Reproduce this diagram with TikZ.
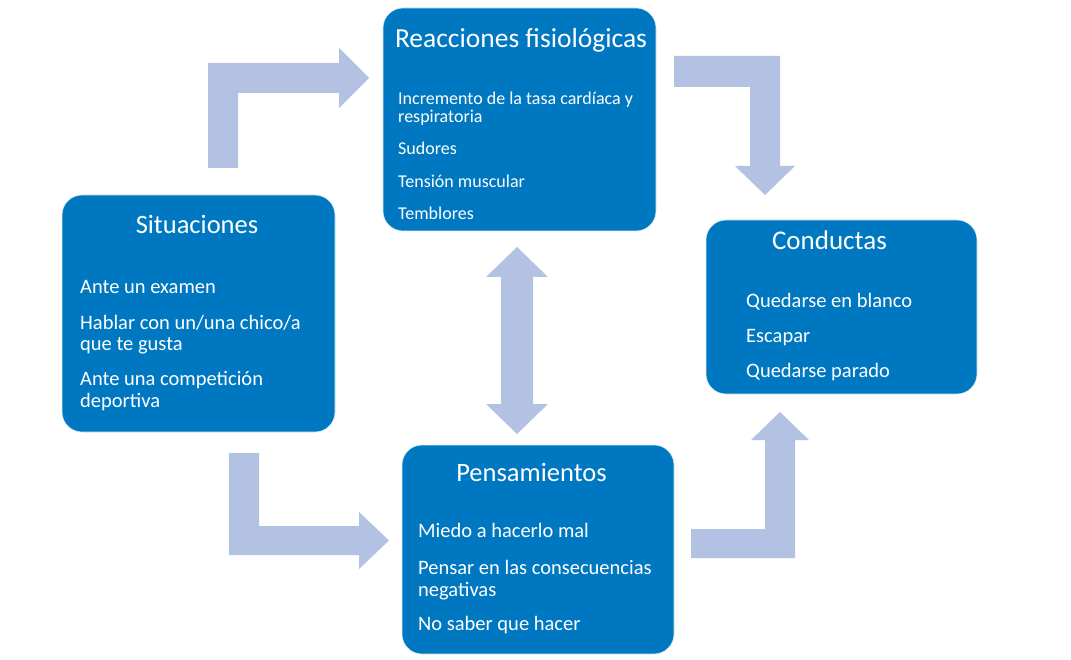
\documentclass[tikz,border=0pt]{standalone}
\usepackage{fontspec}
\setmainfont{Carlito}
\definecolor{boxblue}{RGB}{0,120,193}
\definecolor{arrowblue}{RGB}{179,193,226}
\newcommand\twolines[2]{\parbox[t]{300pt}{\raggedright #1\\#2}}
\tikzset{
  box/.style={rectangle, rounded corners=20pt, fill=boxblue, draw=white!85!boxblue, line width=0.6pt, inner sep=0pt},
  title/.style={text=white, inner sep=0pt, anchor=base, font=\fontsize{26.5}{29}\selectfont},
  item/.style={text=white, inner sep=0pt, anchor=base west, font=\fontsize{20.5}{21.5}\selectfont},
  smallitem/.style={text=white, inner sep=0pt, anchor=base west, font=\fontsize{18}{18.3}\selectfont},
  blockarrow/.style={fill=arrowblue, draw=none}
}
\begin{document}
\begin{tikzpicture}[x=1pt,y=-1pt]
\useasboundingbox (0,0) rectangle (1071,660);
% boxes
\node[box, minimum width=273pt, minimum height=237pt] (sit) at (198.5,313.5) {};
\node[box, minimum width=273pt, minimum height=223pt] (rea) at (519.5,119.5) {};
\node[box, minimum width=272pt, minimum height=209pt] (pen) at (538,549.5) {};
\node[box, minimum width=271pt, minimum height=174pt] (con) at (841.5,307) {};
% block arrows
\fill[blockarrow] (208,168) -- (208,63) -- (339,63) -- (339,48) -- (369,78) -- (339,108) -- (339,93) -- (238,93) -- (238,168) -- cycle;
\fill[blockarrow] (674,56) -- (780,56) -- (780,166) -- (795,166) -- (765,195) -- (735,166) -- (750,166) -- (750,87) -- (674,87) -- cycle;
\fill[blockarrow] (229,453) -- (259,453) -- (259,526) -- (359,526) -- (359,512) -- (389,540.5) -- (359,569) -- (359,555) -- (229,555) -- cycle;
\fill[blockarrow] (691,529) -- (765,529) -- (765,440) -- (751,440) -- (780,412) -- (809,440) -- (795,440) -- (795,558) -- (691,558) -- cycle;
\fill[blockarrow] (517,247) -- (548,277) -- (533,277) -- (533,404) -- (548,404) -- (517,434) -- (486,404) -- (501,404) -- (501,277) -- (486,277) -- cycle;
\begin{scope}[yshift=-2.5pt]
% Situaciones
\node[title] (sitT) at (197,231) {Situaciones};
\node[item] (sit1) at (80,291) {Ante un examen};
\node[item] (sit2) at (80,327) {\twolines{Hablar con un/una chico/a}{que te gusta}};
\node[item] (sit3) at (80,383) {\twolines{Ante una competición}{deportiva}};
% Reacciones
\node[title, font=\fontsize{27.5}{30}\selectfont] (reaT) at (521,45) {Reacciones fisiológicas};
\node[smallitem] (rea1) at (398,102) {\twolines{Incremento de la tasa cardíaca y}{respiratoria}};
\node[smallitem] (rea2) at (398,152) {Sudores};
\node[smallitem] (rea3) at (398,185) {Tensión muscular};
\node[smallitem] (rea4) at (398,217) {Temblores};
% Pensamientos
\node[title] (penT) at (531.5,479) {Pensamientos};
\node[item] (pen1) at (418,535) {Miedo a hacerlo mal};
\node[item] (pen2) at (418,572) {\twolines{Pensar en las consecuencias}{negativas}};
\node[item] (pen3) at (418,628) {No saber que hacer};
% Conductas
\node[title, font=\fontsize{27}{29}\selectfont] (conT) at (829.5,247) {Conductas};
\node[item] (con1) at (746,305) {Quedarse en blanco};
\node[item] (con2) at (746,340) {Escapar};
\node[item] (con3) at (746,375) {Quedarse parado};
\end{scope}
\end{tikzpicture}
\end{document}
